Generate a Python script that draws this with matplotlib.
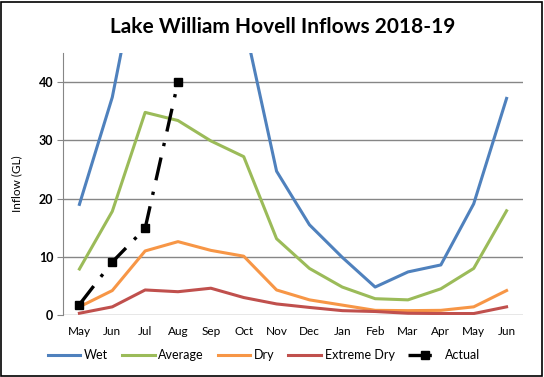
import matplotlib
matplotlib.use("Agg")
import matplotlib.pyplot as plt
from matplotlib.patches import Rectangle

plt.rcParams['font.family'] = ['Lato', 'DejaVu Sans']

months = ["May", "Jun", "Jul", "Aug", "Sep", "Oct", "Nov", "Dec", "Jan", "Feb", "Mar", "Apr", "May", "Jun"]
wet = [19.0, 37.4, 66.0, 80.0, 70.0, 50.6, 24.7, 15.5, 9.9, 4.8, 7.4, 8.6, 19.1, 37.2]
average = [7.9, 17.8, 34.8, 33.4, 29.9, 27.2, 13.1, 8.0, 4.8, 2.8, 2.6, 4.5, 8.0, 17.9]
dry = [1.4, 4.2, 11.0, 12.6, 11.1, 10.1, 4.3, 2.6, 1.7, 0.8, 0.75, 0.8, 1.4, 4.2]
extreme_dry = [0.3, 1.4, 4.3, 4.0, 4.6, 3.0, 1.9, 1.3, 0.75, 0.6, 0.3, 0.25, 0.25, 1.4]
actual = [1.8, 9.1, 14.9, 40.0]
yticks = [0, 10, 20, 30, 40]

fig = plt.figure(figsize=(5.44, 3.77), dpi=100)
ax = fig.add_axes([63/544, 1-315/377, 460/544, 262/377])

x = list(range(len(months)))
lw = 2.2
ax.plot(x, wet, color="#4F81BD", lw=lw, label="Wet", zorder=3)
ax.plot(x, average, color="#9BBB59", lw=lw, label="Average", zorder=3)
ax.plot(x, dry, color="#F79646", lw=lw, label="Dry", zorder=3)
ax.plot(x, extreme_dry, color="#C0504D", lw=lw, label="Extreme Dry", zorder=3)
ax.plot(x[:len(actual)], actual, color="black", lw=2.4, dashes=(7, 3.5, 1, 3.5),
        marker="s", markersize=6, label="Actual", zorder=4)

ax.set_xlim(-0.5, len(months) - 0.5)
ax.set_ylim(0, 45)
ax.set_yticks(yticks)
ax.set_yticklabels([str(v) for v in yticks], fontweight="bold", fontsize=9)
ax.set_xticks(x)
ax.set_xticklabels(months, fontsize=8.5)
ax.grid(axis="y", color="#868686", lw=1)
ax.set_axisbelow(True)
for s in ["top", "right", "bottom"]:
    ax.spines[s].set_visible(False)
ax.spines["left"].set_color("#868686")
ax.tick_params(axis="y", length=4, color="#868686", pad=3)
ax.tick_params(axis="x", length=0, pad=8)
ax.set_ylabel("Inflow (GL)", fontsize=8.5, labelpad=12)

fig.text(0.52, 1-27/377, "Lake William Hovell Inflows 2018-19", ha="center", va="center",
         fontsize=15, fontweight="bold")

handles, labels = ax.get_legend_handles_labels()
fig.legend(handles, labels, loc="center", bbox_to_anchor=(0.485, 1-355/377), ncol=5,
           frameon=False, fontsize=9, handlelength=2.6, handletextpad=0.3, columnspacing=1.1)

fig.add_artist(Rectangle((1/544, 1/377), 541/544, 374/377, transform=fig.transFigure,
                         fill=False, edgecolor="black", lw=1.2))

fig.savefig("out.png", dpi=100)
